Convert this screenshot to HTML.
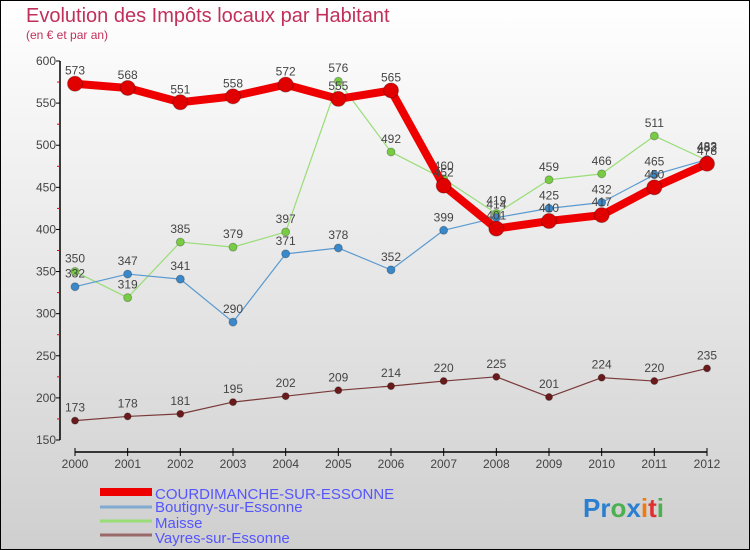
<!DOCTYPE html>
<html><head><meta charset="utf-8"><style>
body{margin:0;}
#wrap{width:750px;height:550px;position:relative;overflow:hidden;}
svg text{font-family:"Liberation Sans",sans-serif;}
</style></head><body>
<div id="wrap">
<svg id="chart" width="750" height="550" xmlns="http://www.w3.org/2000/svg">
<defs><linearGradient id="bg" x1="0" y1="0" x2="0" y2="1"><stop offset="0" stop-color="#ffffff"/><stop offset="1" stop-color="#cfcfcf"/></linearGradient></defs>
<rect x="0.5" y="0.5" width="749" height="549" fill="url(#bg)" stroke="#000"/>
<text x="26" y="22" font-size="20" fill="#c0305a">Evolution des Impôts locaux par Habitant</text>
<text x="26" y="39" font-size="12" fill="#c0305a">(en € et par an)</text>
<g id="axes"></g>
<g id="series"></g>
<g id="legend">
<rect x="100" y="488" width="52" height="8" fill="#e00"/>
<text x="155" y="499" font-size="15" fill="#5555ff">COURDIMANCHE-SUR-ESSONNE</text>
<line x1="100" y1="507" x2="152" y2="507" stroke="#80aad0" stroke-width="3"/>
<text x="155" y="512" font-size="15" fill="#5555ff">Boutigny-sur-Essonne</text>
<line x1="100" y1="521" x2="152" y2="521" stroke="#99dd77" stroke-width="3"/>
<text x="155" y="528" font-size="15" fill="#5555ff">Maisse</text>
<line x1="100" y1="535" x2="152" y2="535" stroke="#9a6a6a" stroke-width="3"/>
<text x="155" y="543" font-size="15" fill="#5555ff">Vayres-sur-Essonne</text>
</g>
<g font-size="26" font-weight="bold">
<text x="583" y="517"><tspan fill="#2a7fd0">Pr</tspan><tspan fill="#4caf50">o</tspan><tspan fill="#2a7fd0">x</tspan><tspan fill="#f07a10">i</tspan><tspan fill="#e03030">t</tspan><tspan fill="#4caf50">i</tspan></text>
</g>
</svg>
</div>
<script>
const years=[2000,2001,2002,2003,2004,2005,2006,2007,2008,2009,2010,2011,2012];
const yTicks=[150,200,250,300,350,400,450,500,550,600];
const courdimanche=[573,568,551,558,572,555,565,452,401,410,417,450,478];
const boutigny=[332,347,341,290,371,378,352,399,414,425,432,465,483];
const maisse=[350,319,385,379,397,576,492,460,419,459,466,511,482];
const vayres=[173,178,181,195,202,209,214,220,225,201,224,220,235];
const NS='http://www.w3.org/2000/svg';
function xs(i){return 75+i*(632/12);}
function ys(v){return 61+(600-v)*(379/450);}
function mk(tag,attrs,parent){const e=document.createElementNS(NS,tag);for(const k in attrs)e.setAttribute(k,attrs[k]);parent.appendChild(e);return e;}
const ax=document.getElementById('axes');
let l=mk('line',{x1:60,y1:ys(600),x2:60,y2:ys(150),stroke:'#000','stroke-width':1.5},ax);


yTicks.forEach(v=>{
 let t=mk('line',{x1:56,y1:ys(v),x2:60,y2:ys(v),stroke:'#000'},ax);
 
 
 let tx=mk('text',{x:56,y:ys(v)+4,'font-size':12,fill:'#444','text-anchor':'end'},ax);tx.textContent=v;
 
 
 if(v<600){let m=mk('line',{x1:57,y1:ys(v+25),x2:60,y2:ys(v+25),stroke:'#e00'},ax);
 
 }
});
l=mk('line',{x1:75,y1:452,x2:707,y2:452,stroke:'#000','stroke-width':1.5},ax);


years.forEach((y,i)=>{
 let t=mk('line',{x1:xs(i),y1:448,x2:xs(i),y2:456,stroke:'#000'},ax);
 
 
 let tx=mk('text',{x:xs(i),y:468,'font-size':12,fill:'#444','text-anchor':'middle'},ax);tx.textContent=y;
 
 
});
const sg=document.getElementById('series');
function draw(vals,name,color,w,r,dot){
 const g=mk('g',{},sg);
 
 
 const p=mk('polyline',{points:vals.map((v,i)=>xs(i)+','+ys(v)).join(' '),fill:'none',stroke:color,'stroke-width':w,'stroke-linejoin':'round'},g);
 
 
 vals.forEach((v,i)=>{
  const c=mk('circle',{cx:xs(i),cy:ys(v),r:r,fill:dot,stroke:'rgba(0,0,0,0.25)'},g);
  
  
  const t=mk('text',{x:xs(i),y:ys(v)-9,'font-size':12,fill:'#444','text-anchor':'middle'},g);t.textContent=v;
  
  
 });
}
draw(vayres,'vayres','#7a3a3a',1.2,3.5,'#6a1a1a');
draw(maisse,'maisse','#99dd77',1.2,4,'#77cc44');
draw(boutigny,'boutigny','#5a9ad0',1.2,4,'#3a88c8');
draw(courdimanche,'courdimanche','#ee0000',8,7.5,'#e00000');
</script>
</body></html>
